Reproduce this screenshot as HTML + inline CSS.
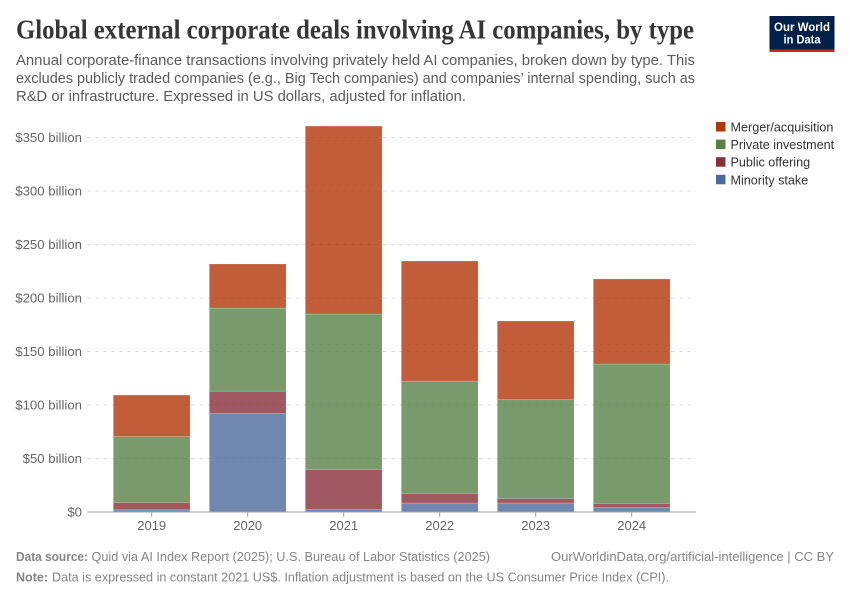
<!DOCTYPE html>
<html lang="en">
<head>
<meta charset="utf-8">
<title>Global external corporate deals involving AI companies, by type</title>
<style>
html,body{margin:0;padding:0;background:#fff;width:850px;height:600px;overflow:hidden}
svg{display:block}
text{font-family:"Liberation Sans",sans-serif}
.serif{font-family:"Liberation Serif",serif;font-weight:700}
</style>
</head>
<body>
<svg id="chart" xmlns="http://www.w3.org/2000/svg" width="850" height="600" viewBox="0 0 850 600">
  <rect width="850" height="600" fill="#fff"/>
  <text class="serif" x="16" y="38.5" font-size="27" fill="#373737" textLength="678" lengthAdjust="spacingAndGlyphs">Global external corporate deals involving AI companies, by type</text>
  <g font-size="14.5" fill="#5b5b5b">
    <text x="16" y="65" textLength="679" lengthAdjust="spacingAndGlyphs">Annual corporate-finance transactions involving privately held AI companies, broken down by type. This</text>
    <text x="16" y="83" textLength="679" lengthAdjust="spacingAndGlyphs">excludes publicly traded companies (e.g., Big Tech companies) and companies’ internal spending, such as</text>
    <text x="16" y="101" textLength="450" lengthAdjust="spacingAndGlyphs">R&amp;D or infrastructure. Expressed in US dollars, adjusted for inflation.</text>
  </g>
  <g>
    <rect x="769.5" y="16" width="65" height="36" fill="#002147"/>
    <rect x="769.5" y="49.5" width="65" height="2.5" fill="#ce261e"/>
    <text x="802" y="31" font-size="12" font-weight="700" fill="#fff" text-anchor="middle" textLength="56" lengthAdjust="spacingAndGlyphs">Our World</text>
    <text x="802" y="43.5" font-size="12" font-weight="700" fill="#fff" text-anchor="middle" textLength="37" lengthAdjust="spacingAndGlyphs">in Data</text>
  </g>
  <g id="grid"></g>
  <g id="bars"></g>
  <g id="axes"></g>
  <g id="legend"></g>
  <g font-size="13" fill="#858585">
    <text x="16" y="561" font-weight="700" textLength="72" lengthAdjust="spacingAndGlyphs">Data source:</text>
    <text x="91.5" y="561" textLength="398.5" lengthAdjust="spacingAndGlyphs">Quid via AI Index Report (2025); U.S. Bureau of Labor Statistics (2025)</text>
    <text x="551" y="561" textLength="283" lengthAdjust="spacingAndGlyphs">OurWorldinData.org/artificial-intelligence | CC BY</text>
    <text x="16" y="581.5" font-weight="700" textLength="32" lengthAdjust="spacingAndGlyphs">Note:</text>
    <text x="52" y="581.5" textLength="617" lengthAdjust="spacingAndGlyphs">Data is expressed in constant 2021 US$. Inflation adjustment is based on the US Consumer Price Index (CPI).</text>
  </g>
</svg>
<script>
const years = ['2019', '2020', '2021', '2022', '2023', '2024'];
const minorityStake = [2, 92, 2.3, 8.4, 8.4, 4.2];
const publicOffering = [7, 21, 37.4, 8.9, 4.2, 3.8];
const privateInvestment = [61.5, 77.6, 145.3, 105.1, 92.4, 130.3];
const mergerAcquisition = [38.8, 41.2, 175.7, 112.2, 73.5, 79.5];
const seriesNames = ['Minority stake', 'Public offering', 'Private investment', 'Merger/acquisition'];
const seriesColors = ['#4c6a9c', '#883039', '#578145', '#b13507'];
const seriesValues = [minorityStake, publicOffering, privateInvestment, mergerAcquisition];
const tickValues = [0, 50, 100, 150, 200, 250, 300, 350];
const tickLabels = ['$0', '$50 billion', '$100 billion', '$150 billion', '$200 billion', '$250 billion', '$300 billion', '$350 billion'];

const NS = 'http://www.w3.org/2000/svg';
const plotLeft = 87, plotRight = 696, baseY = 512, pxPerUnit = 1.07;
const firstCenter = 151.7, band = 96, barWidth = 76.8;
const yScale = function (v) { return baseY - v * pxPerUnit; };
const xScale = function (i) { return firstCenter + i * band; };

function make(tag, attrs, parent) {
  const el = document.createElementNS(NS, tag);
  Object.keys(attrs).forEach(function (k) { el.setAttribute(k, attrs[k]); });
  parent.appendChild(el);
  return el;
}

const grid = document.getElementById('grid');
const bars = document.getElementById('bars');
const axes = document.getElementById('axes');
const legend = document.getElementById('legend');

tickValues.forEach(function (v, i) {
  if (v !== 0) {
    const line = make('line', {x1: plotLeft, x2: plotRight, y1: yScale(v), y2: yScale(v), stroke: '#dddddd', 'stroke-dasharray': '4,4'}, grid);
    
    
  }
  const label = make('text', {x: 82, y: yScale(v) + 4.7, 'text-anchor': 'end', 'font-size': 13.2, fill: '#666666'}, axes);
  
  
  label.textContent = tickLabels[i];
});

years.forEach(function (year, i) {
  let total = 0;
  seriesValues.forEach(function (values, s) {
    const top = total + values[i];
    const rect = make('rect', {
      x: xScale(i) - barWidth / 2,
      y: yScale(top),
      width: barWidth,
      height: yScale(total) - yScale(top),
      fill: seriesColors[s],
      'fill-opacity': 0.8,
      stroke: '#ffffff',
      'stroke-opacity': 0.4,
      'stroke-width': 0.5
    }, bars);
    
    
    total = top;
  });
});

const axisLine = make('line', {x1: plotLeft, x2: plotRight, y1: baseY, y2: baseY, stroke: '#a1a1a1'}, axes);



years.forEach(function (year, i) {
  const tick = make('line', {x1: xScale(i), x2: xScale(i), y1: baseY, y2: baseY + 5, stroke: '#a1a1a1'}, axes);
  
  
  const label = make('text', {x: xScale(i), y: 530, 'text-anchor': 'middle', 'font-size': 13, fill: '#666666'}, axes);
  
  
  label.textContent = year;
});

seriesNames.slice().reverse().forEach(function (name, i) {
  const color = seriesColors[seriesNames.length - 1 - i];
  const top = 122 + i * 17.6;
  const swatch = make('rect', {x: 716, y: top, width: 9.5, height: 9.5, fill: color}, legend);
  
  
  const label = make('text', {x: 730.5, y: top + 9.5, 'font-size': 12.6, fill: '#333333'}, legend);
  
  
  label.textContent = name;
});
</script>
</body>
</html>
